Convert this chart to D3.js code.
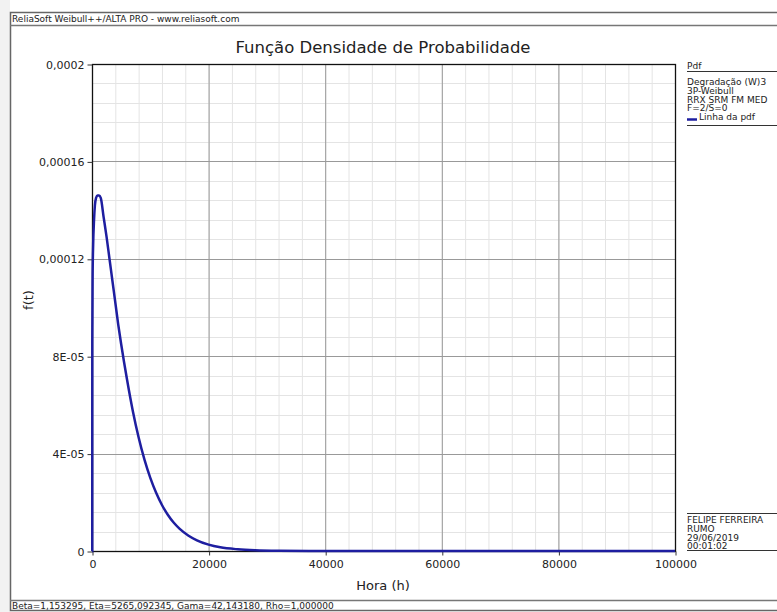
<!DOCTYPE html>
<html>
<head>
<meta charset="utf-8">
<script src="https://cdn.jsdelivr.net/npm/d3@7"></script>
<style>
  body { margin: 0; background: #ffffff; }
  text { font-family: "DejaVu Sans", sans-serif; fill: #222; }
</style>
</head>
<body>
<div id="chart"></div>
<script>
// Chart data
const hours = [0, 42, 50, 100, 200, 350, 500, 700, 950, 1200, 1500, 2000, 2500, 3000, 3500, 4000, 4500, 5000, 6000, 7000, 8000, 9000, 10000, 11000, 12000, 13000, 14000, 15000, 16500, 18000, 20000, 22000, 25000, 28000, 32000, 40000, 60000, 80000, 100000];
const density = [0, 0, 0.000086, 0.000112, 0.000126, 0.000136, 0.000142, 0.000145, 0.000146, 0.000146, 0.000145, 0.000137, 0.000129, 0.00012, 0.000111, 0.000102, 0.000093, 0.000085, 0.0000705, 0.0000575, 0.0000466, 0.0000375, 0.00003, 0.0000239, 0.0000189, 0.0000149, 0.0000117, 0.0000092, 0.0000064, 0.0000044, 0.0000026, 0.0000015, 0.0000007, 0.0000003, 0.0000001, 0, 0, 0, 0];

const xTicks = [0, 20000, 40000, 60000, 80000, 100000];
const yTicks = [0, 0.00004, 0.00008, 0.00012, 0.00016, 0.0002];
const yTickLabels = ["0", "4E-05", "8E-05", "0,00012", "0,00016", "0,0002"];

const titleText = "Função Densidade de Probabilidade";
const xLabel = "Hora (h)";
const yLabel = "f(t)";
const headerText = "ReliaSoft Weibull++/ALTA PRO - www.reliasoft.com";
const statusText = "Beta=1,153295, Eta=5265,092345, Gama=42,143180, Rho=1,000000";
const legendTitle = "Pdf";
const legendLines = ["Degradação (W)3", "3P-Weibull", "RRX SRM FM MED", "F=2/S=0"];
const legendSeries = "Linha da pdf";
const infoLines = ["FELIPE FERREIRA", "RUMO", "29/06/2019", "00:01:02"];

// Size and plot area
const W = 777, H = 612;
const plot = { left: 92, top: 64, right: 675, bottom: 551 };

const svg = d3.select("#chart")
    .append("svg")
    .attr("width", W)
    .attr("height", H);

// background and window frame
svg.append("rect").attr("width", W).attr("height", H).attr("fill", "#fff");
svg.append("rect").attr("x", 0).attr("y", 0).attr("width", 10).attr("height", H).attr("fill", "#f2f2f2");
svg.append("rect").attr("x", 10.5).attr("y", 12.5).attr("width", W).attr("height", 598)
    .attr("fill", "#fff").attr("stroke", "#666").attr("stroke-width", 1.5);
svg.append("line").attr("x1", 10).attr("x2", W).attr("y1", 25.5).attr("y2", 25.5)
    .attr("stroke", "#777").attr("stroke-width", 1.5);
svg.append("line").attr("x1", 10).attr("x2", W).attr("y1", 600.5).attr("y2", 600.5)
    .attr("stroke", "#777").attr("stroke-width", 1.5);

svg.append("text").attr("x", 12).attr("y", 22).attr("font-size", 9).text(headerText);
svg.append("text").attr("x", 12).attr("y", 609).attr("font-size", 9).text(statusText);

// scales
const x = d3.scaleLinear().domain([0, 100000]).range([plot.left, plot.right]);
const y = d3.scaleLinear().domain([0, 0.0002]).range([plot.bottom, plot.top]);

// minor grid
const minorX = d3.range(0, 100001, 4000);
const minorY = d3.range(0, 0.0002001, 0.000008);
svg.append("g").selectAll("line").data(minorX).enter().append("line")
    .attr("x1", d => x(d) + 0.5).attr("x2", d => x(d) + 0.5)
    .attr("y1", plot.top).attr("y2", plot.bottom)
    .attr("stroke", "#e4e4e4");
svg.append("g").selectAll("line").data(minorY).enter().append("line")
    .attr("y1", d => Math.round(y(d)) + 0.5).attr("y2", d => Math.round(y(d)) + 0.5)
    .attr("x1", plot.left).attr("x2", plot.right)
    .attr("stroke", "#e4e4e4");

// major grid
svg.append("g").selectAll("line").data(xTicks).enter().append("line")
    .attr("x1", d => x(d) + 0.5).attr("x2", d => x(d) + 0.5)
    .attr("y1", plot.top).attr("y2", plot.bottom)
    .attr("stroke", "#999");
svg.append("g").selectAll("line").data(yTicks).enter().append("line")
    .attr("y1", d => Math.round(y(d)) + 0.5).attr("y2", d => Math.round(y(d)) + 0.5)
    .attr("x1", plot.left).attr("x2", plot.right)
    .attr("stroke", "#999");

// plot frame
svg.append("rect")
    .attr("x", plot.left + 0.5).attr("y", plot.top + 0.5)
    .attr("width", plot.right - plot.left).attr("height", plot.bottom - plot.top)
    .attr("fill", "none").attr("stroke", "#111").attr("stroke-width", 1.3);

// axes
const yAxis = svg.append("g")
    .attr("transform", `translate(${plot.left + 0.5},0.5)`)
    .call(d3.axisLeft(y).tickValues(yTicks).tickSize(5).tickFormat((d, i) => yTickLabels[i]));
const xAxis = svg.append("g")
    .attr("transform", `translate(0.5,${plot.bottom + 0.5})`)
    .call(d3.axisBottom(x).tickValues(xTicks).tickSize(4).tickFormat(d3.format("d")));
[xAxis, yAxis].forEach(a => {
    a.select(".domain").remove();
    a.selectAll(".tick line").attr("stroke", "#333");
    a.selectAll(".tick text").attr("font-size", 11).attr("font-family", "DejaVu Sans").attr("fill", "#333");
});
xAxis.selectAll(".tick text").attr("dy", "0.9em");

// curve
const line = d3.line()
    .x((d, i) => x(hours[i]))
    .y(d => y(d))
    .curve(d3.curveMonotoneX);
svg.append("path")
    .datum(density)
    .attr("d", line)
    .attr("fill", "none")
    .attr("stroke", "#1e1ea0")
    .attr("stroke-width", 2.5);

// titles
svg.append("text").attr("x", 383).attr("y", 53).attr("text-anchor", "middle")
    .attr("font-size", 16.5).text(titleText);
svg.append("text").attr("x", 383).attr("y", 590).attr("text-anchor", "middle")
    .attr("font-size", 13).text(xLabel);
svg.append("text").attr("transform", "translate(33,300) rotate(-90)").attr("text-anchor", "middle")
    .attr("font-size", 13).text(yLabel);

// legend panel
const lx = 687;
svg.append("text").attr("x", lx).attr("y", 69).attr("font-size", 9).text(legendTitle);
svg.append("line").attr("x1", lx).attr("x2", W).attr("y1", 71.5).attr("y2", 71.5).attr("stroke", "#333");
legendLines.forEach((t, i) => {
    svg.append("text").attr("x", lx).attr("y", 85 + i * 8.8).attr("font-size", 9).text(t);
});
svg.append("line").attr("x1", lx).attr("x2", lx + 10).attr("y1", 119.5).attr("y2", 119.5)
    .attr("stroke", "#1e1ea0").attr("stroke-width", 2.5);
svg.append("text").attr("x", lx + 12).attr("y", 85 + 4 * 8.8).attr("font-size", 9).text(legendSeries);
svg.append("line").attr("x1", lx).attr("x2", W).attr("y1", 125.5).attr("y2", 125.5).attr("stroke", "#333");

// user info panel
svg.append("line").attr("x1", lx).attr("x2", W).attr("y1", 513.5).attr("y2", 513.5).attr("stroke", "#333");
infoLines.forEach((t, i) => {
    svg.append("text").attr("x", lx).attr("y", 523 + i * 8.8).attr("font-size", 9).text(t);
});
svg.append("line").attr("x1", lx).attr("x2", W).attr("y1", 550.5).attr("y2", 550.5).attr("stroke", "#333");
</script>
</body>
</html>
